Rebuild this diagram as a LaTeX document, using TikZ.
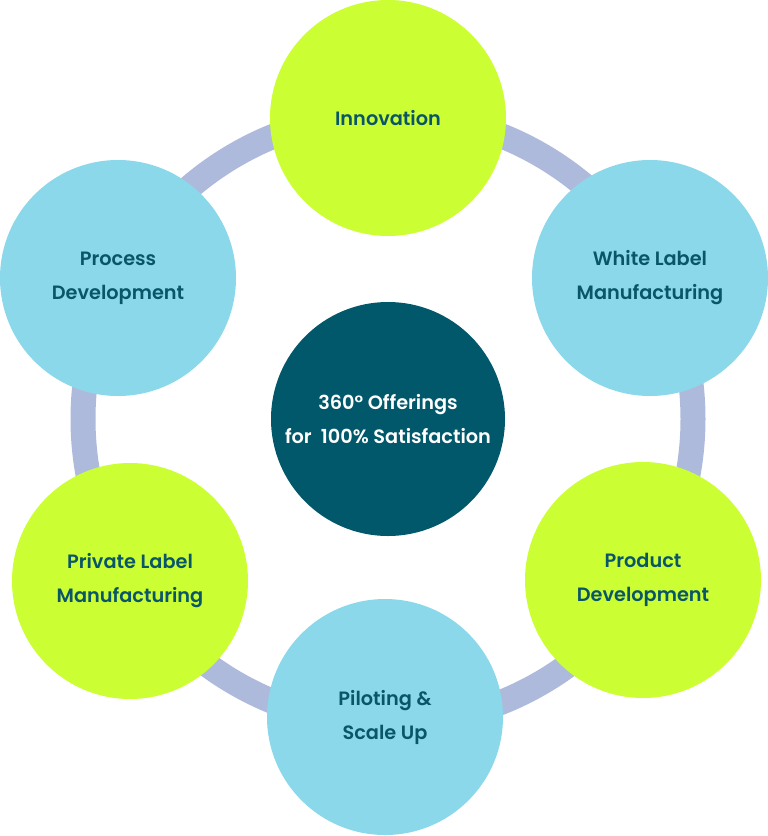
\documentclass[tikz,border=0pt]{standalone}
\usepackage{fontspec}
\setmainfont{Poppins}[BoldFont={Poppins SemiBold}]
\definecolor{lime}{HTML}{CCFF33}
\definecolor{sky}{HTML}{8AD8E9}
\definecolor{deepteal}{HTML}{02586B}
\definecolor{ringc}{HTML}{AEBADC}
\definecolor{txt}{HTML}{0A5668}
\tikzset{
  bubble/.style={circle, minimum size=236pt, inner sep=0pt, align=center,
    font=\bfseries\fontsize{19.3}{34}\selectfont, text=txt},
  limebub/.style={bubble, fill=lime},
  skybub/.style={bubble, fill=sky},
  hub/.style={bubble, fill=deepteal, text=white, minimum size=234pt},
}
\begin{document}
\begin{tikzpicture}[x=1pt,y=-1pt]
\useasboundingbox (0,0) rectangle (768,836);
\coordinate (c) at (388,419);
\draw[ringc, line width=25pt] (c) circle[radius=305pt];
\node[hub] (hubn) at (c) {360\textdegree\ Offerings\\for\ \ 100\% Satisfaction};
\node[limebub] (innov) at (388,118) {Innovation};
\node[skybub] (white) at (650,278) {White Label\\Manufacturing};
\node[limebub] (prod) at (643,580) {Product\\Development};
\node[skybub] (pilot) at (385,717) {Piloting \&\\Scale Up};
\node[limebub] (priv) at (130,581) {Private Label\\Manufacturing};
\node[skybub] (proc) at (118,278) {Process\\Development};
\end{tikzpicture}
\end{document}
